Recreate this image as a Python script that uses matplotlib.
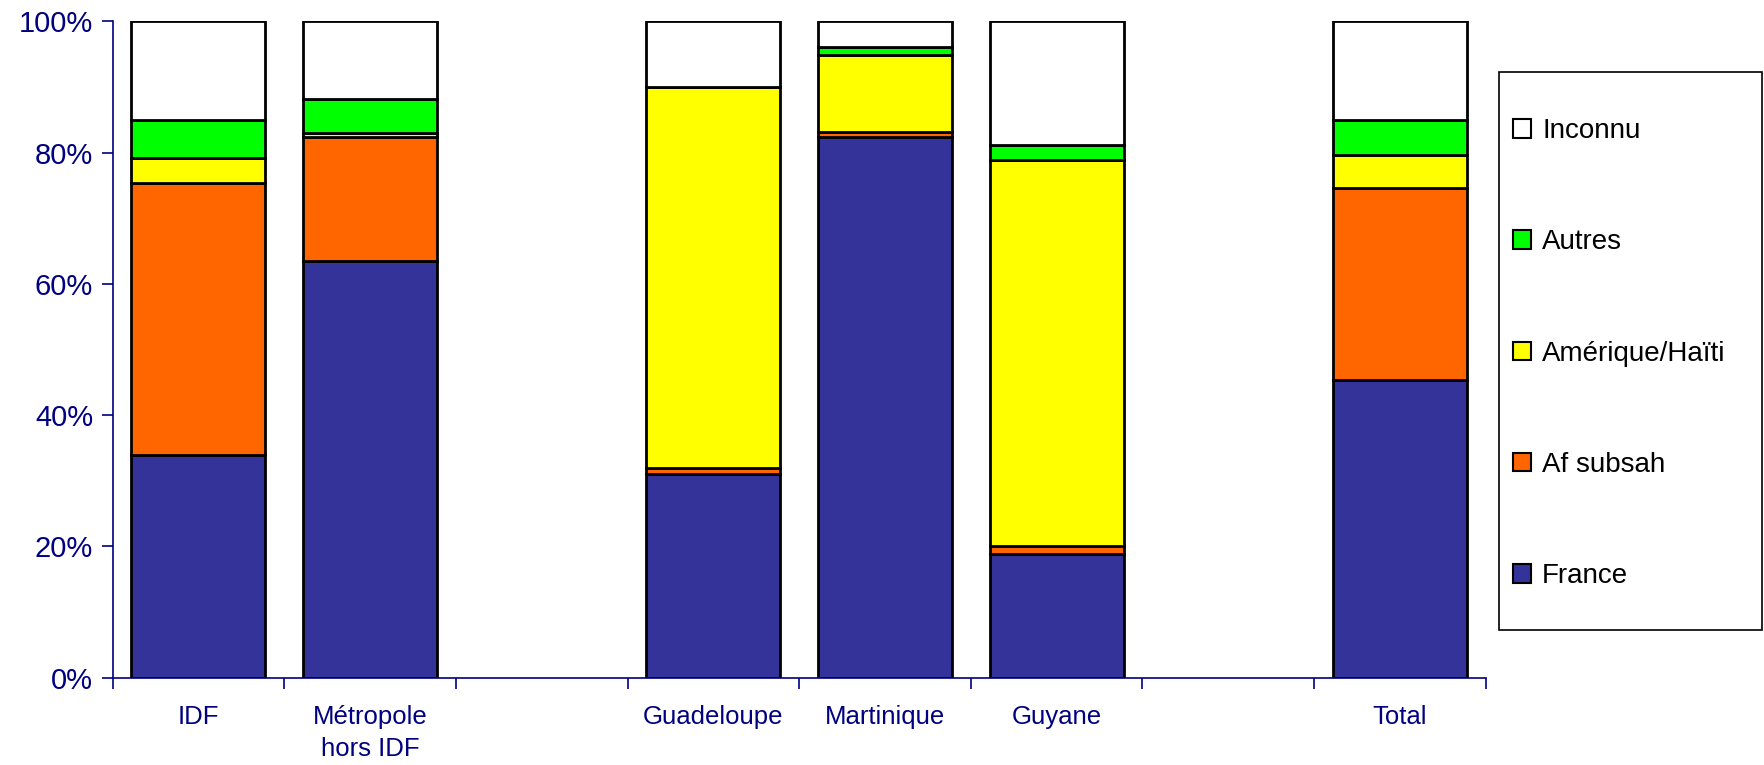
import matplotlib.pyplot as plt
from matplotlib.patches import Rectangle
import numpy as np

# data (percent)
categories = ['IDF', 'Métropole\nhors IDF', '', 'Guadeloupe', 'Martinique', 'Guyane', '', 'Total']
series_names = ['France', 'Af subsah', 'Amérique/Haïti', 'Autres', 'Inconnu']
france    = [33.9, 63.4, 0, 31.1, 82.3, 18.9, 0, 45.3]
af_subsah = [41.5, 18.9, 0, 0.9, 0.9, 1.1, 0, 29.3]
amerique  = [3.8, 0.7, 0, 58.0, 11.7, 58.9, 0, 5.0]
autres    = [5.8, 5.1, 0, 0.0, 1.2, 2.3, 0, 5.4]
inconnu   = [15.0, 11.9, 0, 10.0, 3.9, 18.8, 0, 15.0]
colors = ['#333399', '#FF6600', '#FFFF00', '#00FF00', '#FFFFFF']

navy = '#000080'
plt.rcParams['font.family'] = ['Liberation Sans', 'DejaVu Sans']

W, H = 1765, 765
figure = plt.figure(figsize=(W / 100, H / 100), dpi=100)
axis = figure.add_axes([0.0638, 0.1142, 0.778, 0.858])

x = np.arange(len(categories))
used = [i for i, c in enumerate(categories) if c != '']
bottom = np.zeros(len(categories))
handles = []
for name, vals, col in zip(series_names, [france, af_subsah, amerique, autres, inconnu], colors):
    vals = np.array(vals, dtype=float)
    bars = axis.bar(x[used], vals[used], 0.78, bottom=bottom[used], color=col,
                    edgecolor='black', linewidth=2, label=name)
    handles.append(bars)
    bottom += vals

axis.set_xlim(-0.5, len(categories) - 0.5)
axis.set_ylim(0, 100)

# y axis
axis.set_yticks([0, 20, 40, 60, 80, 100])
axis.set_yticklabels(['0%', '20%', '40%', '60%', '80%', '100%'])
axis.tick_params(axis='y', colors=navy, labelsize=21, length=8, width=1.2, pad=6)

# x axis: tick marks between slots, labels at bar centres
axis.set_xticks(np.arange(-0.5, len(categories), 1.0))
axis.set_xticklabels([])
axis.set_xticks(x[used], minor=True)
axis.set_xticklabels([categories[i] for i in used], minor=True, linespacing=1.4)
axis.tick_params(axis='x', which='major', colors=navy, length=8, width=1.2)
axis.tick_params(axis='x', which='minor', colors=navy, length=0, labelsize=18.5, pad=20)

for side in ['top', 'right']:
    axis.spines[side].set_visible(False)
for side in ['left', 'bottom']:
    axis.spines[side].set_color(navy)
    axis.spines[side].set_linewidth(1.2)

# legend box drawn separately so its size matches the reference
box = Rectangle((1499 / W, 1 - 630 / H), (1762 - 1499) / W, (630 - 72) / H,
                transform=figure.transFigure, facecolor='white', edgecolor='black',
                linewidth=1.2, zorder=0)
figure.patches.append(box)

leg = figure.legend(handles[::-1], series_names[::-1], loc='upper left',
                    bbox_to_anchor=(1513 / W, 1 - 118 / H),
                    fontsize=20, frameon=False,
                    labelspacing=3.07, handlelength=0.65, handleheight=0.65,
                    handletextpad=0.4, borderpad=0, borderaxespad=0)
for h in leg.legend_handles:
    h.set_linewidth(1.5)

plt.savefig('out.png')
